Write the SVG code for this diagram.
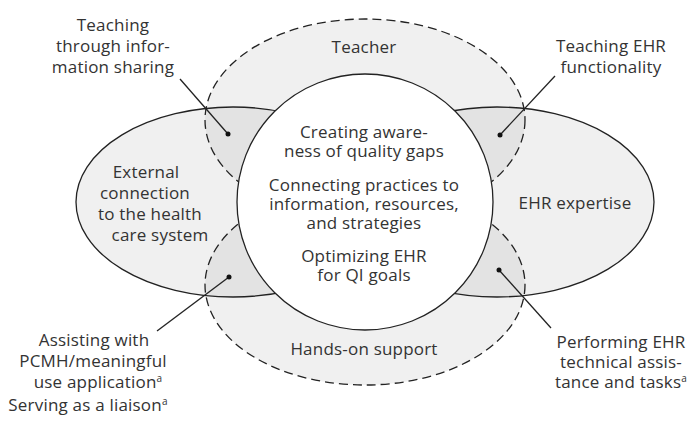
<svg xmlns="http://www.w3.org/2000/svg" width="699" height="422" viewBox="0 0 699 422">
<style>
  text { font-family: "Open Sans", "Liberation Sans", sans-serif; font-size: 17px; fill: #333; text-anchor: middle; letter-spacing: 0.2px; }
  .fill { fill: #f0f0f0; stroke: none; }
  .ov { fill: #e3e3e3; stroke: none; }
  .solid { fill: none; stroke: #222; stroke-width: 1.3; }
  .dash { fill: none; stroke: #222; stroke-width: 1.3; stroke-dasharray: 9 5; }
  .lead { stroke: #222; stroke-width: 1.3; fill: none; }
  .dot { fill: #111; }
  .sup { font-size: 10px; }
</style>
<defs>
  <clipPath id="cL"><ellipse cx="233" cy="202" rx="157" ry="95"/></clipPath>
  <clipPath id="cR"><ellipse cx="497" cy="202" rx="157" ry="95"/></clipPath>
</defs>
<rect width="699" height="422" fill="#fff"/>
<g id="fills">
  <ellipse class="fill" cx="233" cy="202" rx="157" ry="95"/>
  <ellipse class="fill" cx="497" cy="202" rx="157" ry="95"/>
  <ellipse class="fill" cx="365" cy="120" rx="160" ry="101"/>
  <ellipse class="fill" cx="365" cy="285" rx="160" ry="100"/>
  <g clip-path="url(#cL)">
    <ellipse class="ov" cx="365" cy="120" rx="160" ry="101"/>
    <ellipse class="ov" cx="365" cy="285" rx="160" ry="100"/>
  </g>
  <g clip-path="url(#cR)">
    <ellipse class="ov" cx="365" cy="120" rx="160" ry="101"/>
    <ellipse class="ov" cx="365" cy="285" rx="160" ry="100"/>
  </g>
</g>
<g id="external">
  <ellipse class="solid" cx="233" cy="202" rx="157" ry="95"/>
  <text x="146" y="178">External</text>
  <text x="145" y="199">connection</text>
  <text x="150" y="220">to the health</text>
  <text x="160" y="241">care system</text>
</g>
<g id="ehr-expertise">
  <ellipse class="solid" cx="497" cy="202" rx="157" ry="95"/>
  <text x="575" y="209">EHR expertise</text>
</g>
<g id="teacher">
  <ellipse class="dash" cx="365" cy="120" rx="160" ry="101"/>
  <text x="364" y="53">Teacher</text>
</g>
<g id="hands-on">
  <ellipse class="dash" cx="365" cy="285" rx="160" ry="100"/>
  <text x="364" y="355">Hands-on support</text>
</g>
<g id="core">
  <circle cx="365" cy="202" r="128" fill="#fff" stroke="#222" stroke-width="1.3"/>
  <text x="364" y="138">Creating aware-</text>
  <text x="364" y="157">ness of quality gaps</text>
  <text x="364" y="191">Connecting practices to</text>
  <text x="364" y="210">information, resources,</text>
  <text x="364" y="229">and strategies</text>
  <text x="364" y="262">Optimizing EHR</text>
  <text x="364" y="281">for QI goals</text>
</g>
<g id="connectors">
  <line class="lead" x1="180" y1="79" x2="228" y2="134"/>
  <circle class="dot" cx="228" cy="134" r="2.5"/>
  <line class="lead" x1="555" y1="76" x2="500" y2="135"/>
  <circle class="dot" cx="500" cy="135" r="2.5"/>
  <line class="lead" x1="157" y1="331" x2="229" y2="277"/>
  <circle class="dot" cx="229" cy="277" r="2.5"/>
  <line class="lead" x1="551" y1="328" x2="499" y2="270"/>
  <circle class="dot" cx="499" cy="270" r="2.5"/>
</g>
<g id="label-info-sharing">
  <text x="113" y="31">Teaching</text>
  <text x="113" y="52">through infor-</text>
  <text x="113" y="73">mation sharing</text>
</g>
<g id="label-ehr-functionality">
  <text x="611" y="52">Teaching EHR</text>
  <text x="611" y="73">functionality</text>
</g>
<g id="label-pcmh">
  <text x="94" y="346">Assisting with</text>
  <text x="93" y="367">PCMH/meaningful</text>
  <text x="98" y="388">use application<tspan class="sup" dy="-6">a</tspan></text>
  <text x="88" y="411">Serving as a liaison<tspan class="sup" dy="-6">a</tspan></text>
</g>
<g id="label-ehr-tasks">
  <text x="621" y="348">Performing EHR</text>
  <text x="621" y="368">technical assis-</text>
  <text x="621" y="388">tance and tasks<tspan class="sup" dy="-6">a</tspan></text>
</g>
</svg>
